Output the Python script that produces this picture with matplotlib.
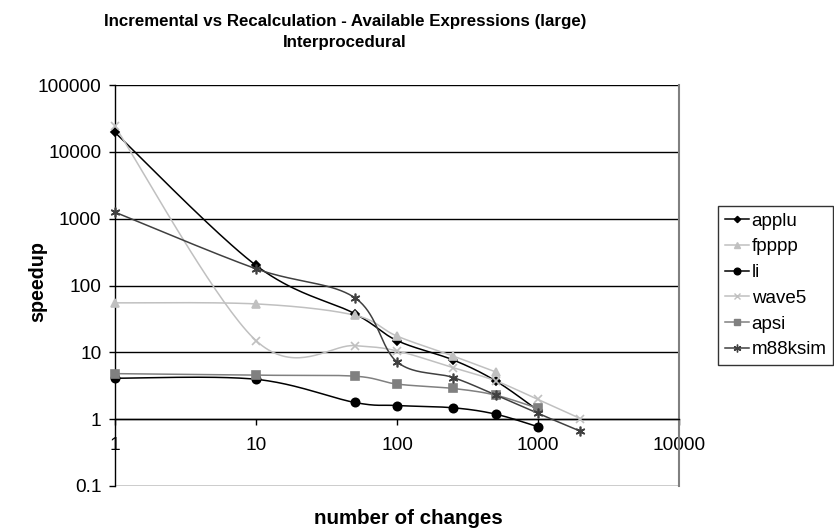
import numpy as np
import matplotlib
matplotlib.use("Agg")
import matplotlib.pyplot as plt
from matplotlib.ticker import FixedLocator, FuncFormatter, NullLocator

plt.rcParams['font.family'] = ['Liberation Sans', 'DejaVu Sans']

# ---- data ----
x_all = [1, 10, 50, 100, 250, 500, 1000, 2000]
applu = [19500, 200, 38, 15, 7.7, 3.75, 1.35]
fpppp = [55, 53, 36, 17.5, 8.8, 5.1]
li = [4.1, 3.95, 1.78, 1.6, 1.48, 1.19, 0.77]
wave5 = [24000, 15, 12.6, 10.5, 5.9, 3.75, 1.97, 1.02]
apsi = [4.8, 4.55, 4.4, 3.35, 2.88, 2.29, 1.45]
m88ksim = [1250, 178, 66, 7.2, 4.2, 2.3, 1.22, 0.66]

series_names = ["applu", "fpppp", "li", "wave5", "apsi", "m88ksim"]
series_vals = [applu, fpppp, li, wave5, apsi, m88ksim]
colors = ["#000000", "#c0c0c0", "#000000", "#c0c0c0", "#808080", "#404040"]
markers = ["D", "^", "o", "x", "s", (6, 2, 0)]
msizes = [4, 5.5, 6, 6, 5.5, 7]

title = "Incremental vs Recalculation - Available Expressions (large)\nInterprocedural"
xlabel = "number of changes"
ylabel = "speedup"
xticks = [1, 10, 100, 1000, 10000]
yticks = [0.1, 1, 10, 100, 1000, 10000, 100000]


def smooth_log(xs, ys, n=40):
    """Excel-like Bezier smoothing computed in log-log space."""
    P = np.column_stack([np.log10(xs), np.log10(ys)])
    out = [P[0]]
    m = len(P)
    for i in range(m - 1):
        p0 = P[i - 1] if i > 0 else P[i]
        p1 = P[i]
        p2 = P[i + 1]
        p3 = P[i + 2] if i + 2 < m else P[i + 1]
        c1 = p1 + (p2 - p0) / 6.0
        c2 = p2 - (p3 - p1) / 6.0
        t = np.linspace(0, 1, n)[1:, None]
        seg = ((1 - t) ** 3) * p1 + 3 * ((1 - t) ** 2) * t * c1 + 3 * (1 - t) * t ** 2 * c2 + t ** 3 * p2
        out.extend(seg)
    out = np.array(out)
    return 10 ** out[:, 0], 10 ** out[:, 1]


W, H = 834, 529
fig = plt.figure(figsize=(W / 100, H / 100), dpi=100)
L, R, T, B = 115, 679, 85, 486
ax = fig.add_axes([L / W, 1 - B / H, (R - L) / W, (B - T) / H])
ax.set_xscale('log')
ax.set_yscale('log')
ax.set_xlim(1, 10000)
ax.set_ylim(0.1, 100000)

# gridlines
for yv in yticks:
    ax.axhline(yv, color='black', lw=1.0, zorder=1)

handles = []
for name, vals, c, mk, ms in zip(series_names, series_vals, colors, markers, msizes):
    xs = x_all[:len(vals)]
    sx, sy = smooth_log(xs, vals)
    ax.plot(sx, sy, color=c, lw=1.1, zorder=3, clip_on=False)
    ax.plot(xs, vals, linestyle='none', marker=mk, color=c, markersize=ms,
            markeredgewidth=1.2, zorder=4, clip_on=False)
    h, = ax.plot([], [], color=c, lw=1.1, marker=mk, markersize=ms * 0.8,
                 markeredgewidth=1.0)
    handles.append(h)

# spines
ax.spines['top'].set_visible(False)
ax.spines['right'].set_color('#808080')
ax.spines['right'].set_linewidth(1.5)
ax.spines['left'].set_color('black')
ax.spines['left'].set_linewidth(1.0)
ax.spines['bottom'].set_position(('data', 1))
ax.spines['bottom'].set_linewidth(1.0)

ax.xaxis.set_major_locator(FixedLocator(xticks))
ax.yaxis.set_major_locator(FixedLocator(yticks))
ax.xaxis.set_minor_locator(NullLocator())
ax.yaxis.set_minor_locator(NullLocator())
fmt = FuncFormatter(lambda v, p: ('%g' % v) if v >= 1 else ('%.1f' % v))
ax.xaxis.set_major_formatter(fmt)
ax.yaxis.set_major_formatter(fmt)
ax.tick_params(axis='x', direction='out', length=4.3, width=1.0, pad=8.5, labelsize=13.7)
ax.tick_params(axis='y', direction='out', length=4.3, width=1.0, pad=5.5, labelsize=13.7)

fig.text(345 / W, 1 - 32 / H, title, ha='center', va='center',
         fontsize=12.2, fontweight='bold', linespacing=1.45)
fig.text(408 / W, 1 - 519 / H, xlabel, ha='center', va='center',
         fontsize=14.8, fontweight='bold')
fig.text(38 / W, 1 - 282 / H, ylabel, ha='center', va='center',
         fontsize=14.2, fontweight='bold', rotation=90)

leg = fig.legend(handles, series_names, loc='upper left',
                 bbox_to_anchor=(718 / W, 1 - 206 / H), frameon=True,
                 fancybox=False, shadow=False, fontsize=13.5,
                 handlelength=1.3, handletextpad=0.15, labelspacing=0.46,
                 borderpad=0.35, borderaxespad=0)
leg.get_frame().set_edgecolor('black')
leg.get_frame().set_linewidth(1.0)

fig.savefig('out.png', dpi=100)
